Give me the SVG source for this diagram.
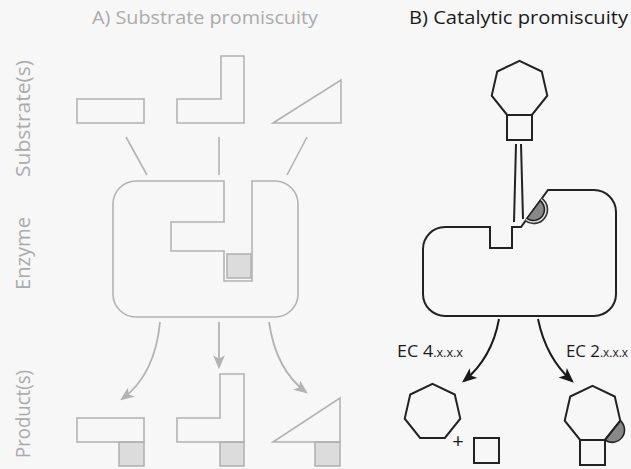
<svg xmlns="http://www.w3.org/2000/svg" width="631" height="469" viewBox="0 0 631 469">
  <style>
    .ga { fill: none; stroke: #b3b3b3; stroke-width: 1.6; stroke-linejoin: miter; }
    .gfill { fill: #dcdcdc; stroke: #b3b3b3; stroke-width: 1.6; }
    .bk { fill: none; stroke: #222; stroke-width: 2; stroke-linejoin: miter; }
    .ttl { font-family: "Open Sans", "Noto Sans", sans-serif; font-size: 19px; }
    .side { font-family: "Open Sans", "Noto Sans", sans-serif; font-size: 20px; fill: #ababab; text-anchor: middle; }
    .ec { font-family: "Open Sans", "Noto Sans", sans-serif; font-size: 17px; fill: #1a1a1a; }
    .arrA { fill: none; stroke: #b3b3b3; stroke-width: 1.8; }
    .arrB { fill: none; stroke: #1a1a1a; stroke-width: 2; }
  </style>
  <defs>
    <marker id="headGray" viewBox="0 0 12 10" refX="10" refY="5" markerWidth="14" markerHeight="12" markerUnits="userSpaceOnUse" orient="auto">
      <path d="M0,0 L12,5 L0,10 L3,5 Z" fill="#b3b3b3"/>
    </marker>
    <marker id="headBlack" viewBox="0 0 12 10" refX="10" refY="5" markerWidth="15" markerHeight="13" markerUnits="userSpaceOnUse" orient="auto">
      <path d="M0,0 L12,5 L0,10 L3,5 Z" fill="#1a1a1a"/>
    </marker>
    <!-- regular heptagon, flat bottom edge, centred on its circumcentre -->
    <polygon id="hept" points="0,-28.5 22.28,-17.77 27.78,6.34 12.37,25.68 -12.37,25.68 -27.78,6.34 -22.28,-17.77"/>
  </defs>

  <rect width="631" height="469" fill="#f7f7f7"/>

  <!-- titles -->
  <text class="ttl" x="92" y="24" fill="#ababab" textLength="226" lengthAdjust="spacingAndGlyphs">A) Substrate promiscuity</text>
  <text class="ttl" x="409" y="24" fill="#1a1a1a" textLength="219" lengthAdjust="spacingAndGlyphs">B) Catalytic promiscuity</text>

  <!-- row labels -->
  <text class="side" transform="translate(30,118.5) rotate(-90)" textLength="117" lengthAdjust="spacingAndGlyphs">Substrate(s)</text>
  <text class="side" transform="translate(30,253.5) rotate(-90)" textLength="73" lengthAdjust="spacingAndGlyphs">Enzyme</text>
  <text class="side" transform="translate(30,414) rotate(-90)" textLength="88" lengthAdjust="spacingAndGlyphs">Product(s)</text>

  <!-- A: substrates -->
  <g id="substrate-bar">
    <rect class="ga" x="77" y="99" width="67" height="24"/>
  </g>
  <g id="substrate-ell">
    <path class="ga" d="M177,99 H221 V56 H244 V123 H177 Z"/>
  </g>
  <g id="substrate-wedge">
    <path class="ga" d="M273,123 L341,80 V123 Z"/>
  </g>

  <!-- A: enzyme with pocket -->
  <g id="enzyme-a">
    <path class="ga" d="M224,181 V222 H171 V251 H224 V281 H252 V181 H275 A23,23 0 0 1 298,204 V294 A23,23 0 0 1 275,317 H136 A23,23 0 0 1 113,294 V204 A23,23 0 0 1 136,181 Z"/>
    <rect class="gfill" x="227" y="254" width="24" height="24"/>
  </g>

  <!-- A: products -->
  <g id="product-bar">
    <rect class="gfill" x="119" y="442" width="25" height="24"/>
    <rect class="ga" x="77" y="418" width="67" height="24"/>
  </g>
  <g id="product-ell">
    <rect class="gfill" x="220" y="442" width="24" height="24"/>
    <path class="ga" d="M177,418 H220 V374 H244 V442 H177 Z"/>
  </g>
  <g id="product-wedge">
    <rect class="gfill" x="315" y="442" width="25" height="24"/>
    <path class="ga" d="M273,442 L340,398 V442 Z"/>
  </g>

  <!-- B: substrate (heptagon fused to square) -->
  <g id="substrate-b">
    <use href="#hept" class="bk" transform="translate(519.5,89.3)"/>
    <rect class="bk" x="507" y="115" width="25" height="25"/>
  </g>

  <!-- B: enzyme with notch and catalytic half-disc -->
  <g id="enzyme-b">
    <path class="bk" d="M490,227 V248 H512 V227 H521 L548,190 H594 A22,22 0 0 1 616,212 V294 A22,22 0 0 1 594,316 H445 A22,22 0 0 1 423,294 V249 A22,22 0 0 1 445,227 Z"/>
    <path d="M541.9,198.3 A14,14 0 0 1 525.1,220.7" fill="#dddddd" stroke="#333" stroke-width="1.6"/>
    <path d="M540.1,200.7 A11,11 0 0 1 526.9,218.3 Z" fill="#888888" stroke="#222" stroke-width="1.5"/>
  </g>

  <!-- B: products -->
  <g id="product-lyase">
    <use href="#hept" class="bk" transform="translate(432.5,412.3)"/>
    <text x="458" y="448" font-family="Open Sans, sans-serif" font-size="20" fill="#1a1a1a" text-anchor="middle">+</text>
    <rect class="bk" x="474" y="438" width="25" height="25"/>
  </g>
  <g id="product-transferase">
    <path d="M620.3,420.6 A12.4,12.4 0 0 1 604.9,440 Z" fill="#888888" stroke="#222" stroke-width="1.6"/>
    <use href="#hept" class="bk" transform="translate(592.5,414.3)"/>
    <rect class="bk" x="580" y="440" width="25" height="25"/>
  </g>

  <!-- EC labels -->
  <text class="ec" x="397" y="357" textLength="66" lengthAdjust="spacingAndGlyphs">EC 4<tspan font-size="12">.x.x.x</tspan></text>
  <text class="ec" x="566" y="357" textLength="62" lengthAdjust="spacingAndGlyphs">EC 2<tspan font-size="12">.x.x.x</tspan></text>

  <!-- connectors -->
  <g id="connectors">
    <line class="ga" x1="126" y1="137" x2="147" y2="175"/>
    <line class="ga" x1="219" y1="137" x2="219" y2="175"/>
    <line class="ga" x1="307" y1="137" x2="287" y2="175"/>
    <path class="arrA" d="M160,322 Q155,375 122,399" marker-end="url(#headGray)"/>
    <path class="arrA" d="M219,322 V367" marker-end="url(#headGray)"/>
    <path class="arrA" d="M269,322 Q276,370 306,392" marker-end="url(#headGray)"/>
    <line class="bk" x1="516" y1="144" x2="514" y2="222"/>
    <line class="bk" x1="521" y1="144" x2="523" y2="219"/>
    <path class="arrB" d="M499,319 Q492,358 464,381" marker-end="url(#headBlack)"/>
    <path class="arrB" d="M538,319 Q546,358 572,381" marker-end="url(#headBlack)"/>
  </g>
</svg>
